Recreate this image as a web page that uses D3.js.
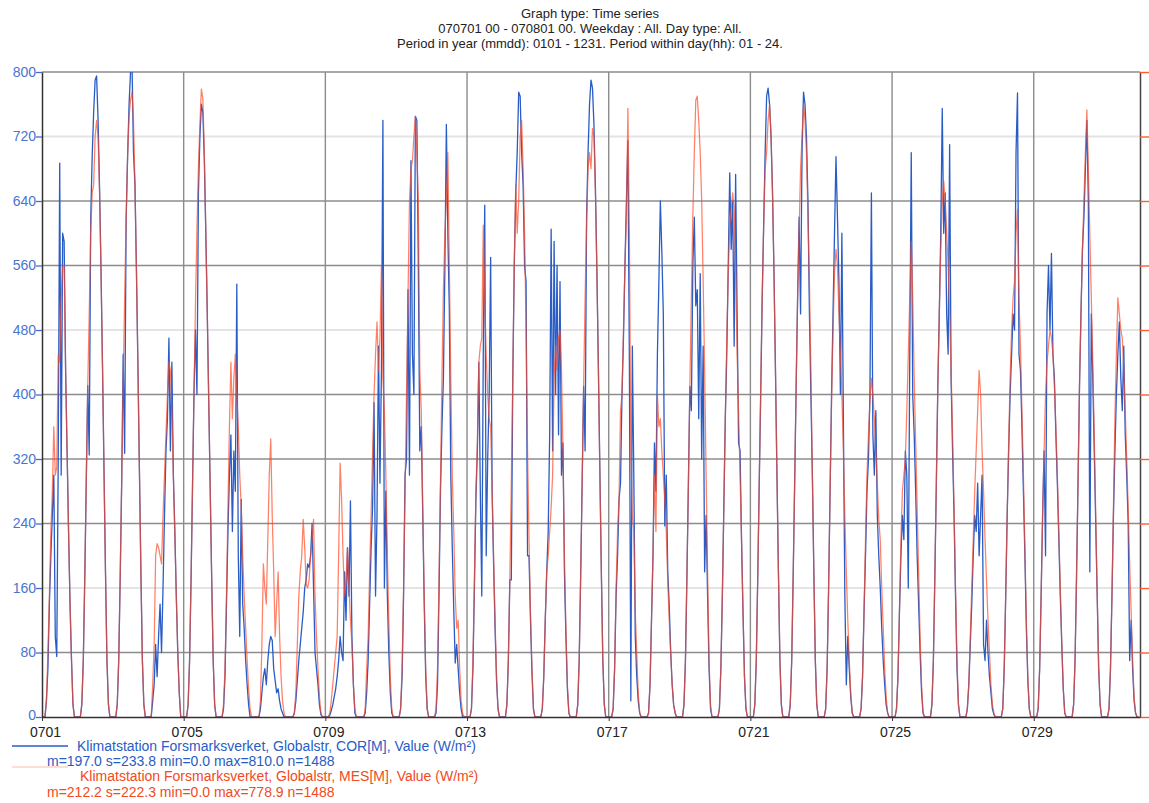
<!DOCTYPE html>
<html>
<head>
<meta charset="utf-8">
<script src="https://cdn.jsdelivr.net/npm/d3@7"></script>
<style>
  html, body { margin: 0; padding: 0; background: #fff; }
  svg { display: block; font-family: "Liberation Sans", Arial, sans-serif; }
</style>
</head>
<body>
<svg id="chart" width="1149" height="803"></svg>
<script>
// ---- chart data -------------------------------------------------------------
const titleLines = [
  "Graph type: Time series",
  "070701 00 - 070801 00. Weekday : All. Day type: All.",
  "Period in year (mmdd): 0101 - 1231. Period within day(hh): 01 - 24."
];
const xTickLabels = ["0701", "0705", "0709", "0713", "0717", "0721", "0725", "0729"];
const yTickValues = [0, 80, 160, 240, 320, 400, 480, 560, 640, 720, 800];
const seriesNames = [
  "Klimatstation Forsmarksverket, Globalstr, COR[M], Value (W/m\u00b2)",
  "Klimatstation Forsmarksverket, Globalstr, MES[M], Value (W/m\u00b2)"
];
const seriesStats = [
  "m=197.0 s=233.8 min=0.0 max=810.0 n=1488",
  "m=212.2 s=222.3 min=0.0 max=778.9 n=1488"
];

// Hourly global radiation (W/m²), one row per day of July 2007, hours 00..23
const corHourly = [
  [0,0,0,20,60,140,200,250,300,100,75,320,687,300,600,590,430,330,230,140,70,15,0,0],
  [0,0,0,16,71,174,292,411,325,616,695,750,790,795,740,656,553,435,308,182,71,16,0,0],
  [0,0,0,16,71,174,292,450,327,616,695,760,800,810,700,660,553,435,308,182,71,16,0,0],
  [0,0,0,20,40,90,50,100,140,80,160,250,330,370,470,330,440,300,230,150,80,30,0,0],
  [0,0,0,15,70,170,287,403,480,400,650,720,760,750,690,600,500,390,280,170,70,15,0,0],
  [0,0,0,10,50,140,230,300,350,230,330,280,537,200,100,270,140,110,70,40,15,0,0,0],
  [0,0,0,0,10,30,50,60,40,70,90,100,95,60,45,30,35,20,10,5,0,0,0,0],
  [0,0,0,5,20,45,70,90,110,130,160,170,190,185,200,240,160,80,60,40,15,3,0,0],
  [0,0,0,2,8,15,25,35,50,70,100,80,70,180,120,210,150,268,100,40,5,0,0,0],
  [0,0,0,5,30,70,140,210,260,390,150,250,460,290,430,740,160,280,150,80,30,5,0,0],
  [0,0,0,10,50,150,300,320,530,300,690,450,400,745,740,560,330,360,250,140,50,10,0,0],
  [0,0,0,5,40,150,280,360,420,560,735,600,505,300,210,134,67,90,60,30,10,0,0,0],
  [0,0,0,10,60,160,270,330,440,280,150,450,635,200,320,400,570,280,190,110,45,10,0,0],
  [0,0,0,15,70,170,170,420,560,650,700,775,770,700,660,560,540,200,200,120,55,10,0,0],
  [0,0,0,10,50,120,180,230,350,605,330,590,400,560,350,540,300,340,180,100,35,5,0,0],
  [0,0,0,15,70,175,290,410,330,620,700,760,790,780,735,656,553,435,308,182,71,16,0,0],
  [0,0,0,10,60,150,200,270,290,400,470,560,640,715,440,20,460,300,100,50,20,5,0,0],
  [0,0,0,5,40,120,200,340,280,450,540,640,577,500,237,300,180,139,80,40,15,5,0,0],
  [0,0,0,15,70,175,290,410,380,560,620,510,530,370,550,320,460,180,250,150,60,10,0,0],
  [0,0,0,10,60,150,260,370,450,560,675,580,640,460,673,500,340,330,220,130,50,10,0,0],
  [0,0,0,15,70,175,290,400,520,610,700,770,780,760,720,650,550,430,300,180,70,15,0,0],
  [0,0,0,15,70,175,290,410,520,620,500,700,775,760,720,640,500,400,300,180,70,15,0,0],
  [0,0,0,10,60,160,280,400,500,600,695,620,540,400,600,370,150,40,100,60,25,5,0,0],
  [0,0,0,10,50,130,200,280,320,400,650,350,300,380,250,200,160,110,70,40,15,5,0,0],
  [0,0,0,10,50,130,200,250,220,330,300,160,450,700,400,350,280,200,140,80,30,5,0,0],
  [0,0,0,15,70,175,290,410,500,600,755,600,650,500,450,710,420,330,250,150,60,15,0,0],
  [0,0,0,10,40,90,140,200,250,230,290,200,250,300,90,70,120,80,50,30,10,3,0,0],
  [0,0,0,10,60,150,250,330,400,450,500,480,700,774,450,430,360,280,200,110,45,10,0,0],
  [0,0,0,10,60,150,250,330,200,500,560,480,575,450,420,350,290,220,150,90,35,5,0,0],
  [0,0,0,15,70,175,290,410,500,580,620,680,740,640,180,500,420,330,240,150,60,15,0,0],
  [0,0,0,10,60,150,250,330,400,450,490,420,380,460,350,300,240,70,120,60,20,5,0,0]
];
const mesHourly = [
  [0,0,0,20,80,150,230,280,360,300,310,450,440,520,560,560,430,330,230,140,70,15,0,0],
  [0,0,0,16,71,174,292,411,500,600,650,660,720,740,720,650,553,435,308,182,71,16,0,0],
  [0,0,0,16,71,174,292,411,521,616,695,745,765,775,740,660,553,435,308,182,71,16,0,0],
  [0,0,0,40,90,200,215,210,200,190,250,300,350,400,440,430,380,300,230,150,80,30,0,0],
  [0,0,0,15,70,170,287,403,512,605,682,736,778.9,767,700,600,500,390,280,170,70,15,0,0],
  [0,0,0,15,60,150,260,360,440,370,420,450,400,360,300,260,200,150,110,70,35,10,0,0],
  [0,0,0,0,20,90,190,160,140,220,300,345,250,180,100,140,180,100,50,20,5,0,0,0],
  [0,0,0,5,30,90,150,180,200,245,210,165,160,170,200,220,245,150,100,60,25,5,0,0],
  [0,0,0,5,20,40,60,80,100,200,315,270,200,150,170,210,160,120,90,40,10,0,0,0],
  [0,0,0,10,60,100,180,250,330,400,450,490,430,470,560,420,380,300,200,120,50,10,0,0],
  [0,0,0,10,60,160,280,400,520,640,680,690,720,745,700,640,430,380,260,150,60,10,0,0],
  [0,0,0,10,60,170,290,420,530,600,640,700,560,420,300,230,150,110,120,60,20,5,0,0],
  [0,0,0,10,70,170,280,340,440,460,470,610,520,450,400,370,360,280,200,120,50,10,0,0],
  [0,0,0,15,70,170,290,420,560,660,600,640,720,740,680,600,480,330,220,130,60,10,0,0],
  [0,0,0,10,50,120,180,200,230,260,300,420,460,430,470,480,430,330,200,110,40,5,0,0],
  [0,0,0,15,70,175,290,410,520,610,680,700,680,730,720,650,550,430,300,180,70,15,0,0],
  [0,0,0,10,60,160,230,270,380,400,480,560,620,755,600,330,250,230,130,80,30,5,0,0],
  [0,0,0,5,40,120,200,300,230,400,360,370,330,300,270,230,170,120,80,40,15,5,0,0],
  [0,0,0,15,70,175,290,410,520,620,700,765,770,740,700,640,540,430,300,180,70,15,0,0],
  [0,0,0,10,60,150,260,370,470,550,610,630,650,630,560,450,380,300,220,130,50,10,0,0],
  [0,0,0,15,70,175,290,410,520,610,680,700,740,760,720,650,550,430,300,180,70,15,0,0],
  [0,0,0,15,70,175,290,410,520,600,680,720,760,740,700,620,540,430,300,180,70,15,0,0],
  [0,0,0,10,60,160,280,390,480,550,580,560,500,450,400,330,250,180,120,70,30,5,0,0],
  [0,0,0,10,50,130,220,300,350,390,420,400,370,330,290,245,220,160,110,60,25,5,0,0],
  [0,0,0,10,50,130,220,280,300,320,380,450,520,590,520,420,340,260,180,100,40,5,0,0],
  [0,0,0,15,70,175,290,410,500,580,640,665,640,600,560,500,430,350,260,160,70,15,0,0],
  [0,0,0,10,40,100,160,220,280,330,380,430,400,330,280,220,170,120,80,40,15,5,0,0],
  [0,0,0,10,60,150,250,340,420,480,520,540,600,630,520,460,380,300,210,120,50,10,0,0],
  [0,0,0,10,60,150,250,330,400,440,460,480,470,450,410,360,300,230,160,90,35,5,0,0],
  [0,0,0,15,70,175,290,410,500,580,640,700,753,680,600,520,440,350,250,150,60,15,0,0],
  [0,0,0,10,60,150,260,370,450,520,500,480,470,430,380,320,260,190,130,70,25,5,0,0]
];

// ---- layout -----------------------------------------------------------------
const plot = { left: 42, right: 1140, top: 72, bottom: 717 };
const blue = "#2a5cc6", red = "#ff4a26";

const svg = d3.select("#chart");

const x = d3.scaleUtc()
  .domain([new Date(Date.UTC(2007, 6, 1)), new Date(Date.UTC(2007, 7, 1))])
  .range([plot.left, plot.right]);
const y = d3.scaleLinear().domain([0, 800]).range([plot.bottom, plot.top]);

const toPoints = rows => rows.flatMap((day, d) =>
  day.map((v, h) => ({ t: new Date(Date.UTC(2007, 6, 1 + d, h)), v })));
const corPts = toPoints(corHourly);
const mesPts = toPoints(mesHourly);

// title
svg.append("g").selectAll("text").data(titleLines).join("text")
  .attr("x", 590).attr("y", (d, i) => 18 + i * 15)
  .attr("text-anchor", "middle")
  .attr("font-size", 13).attr("fill", "#222")
  .text(d => d);

// grid
const lightY = new Set([160, 480, 720]);
svg.append("g").selectAll("line").data(yTickValues.filter(v => v > 0)).join("line")
  .attr("x1", plot.left).attr("x2", plot.right)
  .attr("y1", d => y(d)).attr("y2", d => y(d))
  .attr("stroke", d => lightY.has(d) ? "#e4e4e4" : "#8c8c8c")
  .attr("stroke-width", d => lightY.has(d) ? 2 : 1.3);

const xTickDates = xTickLabels.map(s => new Date(Date.UTC(2007, +s.slice(0, 2) - 1, +s.slice(2))));
svg.append("g").selectAll("line").data(xTickDates.slice(1)).join("line")
  .attr("x1", d => x(d)).attr("x2", d => x(d))
  .attr("y1", plot.top).attr("y2", plot.bottom)
  .attr("stroke", "#8c8c8c").attr("stroke-width", 1.4);

// series
svg.append("clipPath").attr("id", "clip").append("rect")
  .attr("x", plot.left).attr("y", plot.top)
  .attr("width", plot.right - plot.left).attr("height", plot.bottom - plot.top);

const line = d3.line().x(d => x(d.t)).y(d => y(d.v));
const series = svg.append("g").attr("clip-path", "url(#clip)");
series.append("path").datum(corPts)
  .attr("d", line).attr("fill", "none")
  .attr("stroke", blue).attr("stroke-width", 1.3).attr("stroke-linejoin", "round");
series.append("path").datum(mesPts)
  .attr("d", line).attr("fill", "none")
  .attr("stroke", red).attr("stroke-opacity", 0.7)
  .attr("stroke-width", 1.25).attr("stroke-linejoin", "round");

// left axis
const yAxis = svg.append("g").attr("transform", `translate(${plot.left},0)`)
  .call(d3.axisLeft(y).tickValues(yTickValues).tickSize(6).tickSizeOuter(0).tickFormat(d3.format("d")));
yAxis.select(".domain").attr("stroke", "#333").attr("stroke-width", 1.5);
yAxis.selectAll(".tick line").attr("stroke", "#3f6cd0").attr("stroke-width", 1.3);
yAxis.selectAll(".tick text").attr("fill", "#4a74cf").attr("font-size", 14)
  .attr("font-family", "Liberation Sans, Arial, sans-serif").attr("x", -6)
  .attr("dy", d => d === 0 ? "0.2em" : "0.32em");

// right axis
const yAxisR = svg.append("g").attr("transform", `translate(${plot.right},0)`)
  .call(d3.axisRight(y).tickValues(yTickValues).tickSize(9).tickSizeOuter(0).tickFormat(""));
yAxisR.select(".domain").attr("stroke", "#444").attr("stroke-width", 1.5);
yAxisR.selectAll(".tick line").attr("stroke", "#ff5a30").attr("stroke-width", 1.4);

// bottom axis
const xAxis = svg.append("g").attr("transform", `translate(0,${plot.bottom})`)
  .call(d3.axisBottom(x).tickValues(xTickDates).tickSize(4).tickSizeOuter(0)
    .tickFormat((d, i) => xTickLabels[i]));
xAxis.select(".domain").attr("stroke", "#333").attr("stroke-width", 1.5);
xAxis.selectAll(".tick line").attr("stroke", "#333");
xAxis.selectAll(".tick text").attr("fill", "#222").attr("font-size", 14)
  .attr("font-family", "Liberation Sans, Arial, sans-serif").attr("y", 10).attr("dx", 3);

// legend
const legend = svg.append("g");
legend.append("line").attr("x1", 12).attr("x2", 68).attr("y1", 746).attr("y2", 746)
  .attr("stroke", blue).attr("stroke-width", 1.5);
legend.append("line").attr("x1", 12).attr("x2", 68).attr("y1", 767).attr("y2", 767)
  .attr("stroke", "#fcd2c6").attr("stroke-width", 1.5);
legend.append("text").attr("x", 77).attr("y", 751).attr("font-size", 14)
  .attr("fill", "#2a5cc4").text(seriesNames[0]);
legend.append("text").attr("x", 47).attr("y", 766).attr("font-size", 14)
  .attr("fill", "#2a5cc4").text(seriesStats[0]);
legend.append("text").attr("x", 80).attr("y", 781).attr("font-size", 14)
  .attr("fill", "#f24a22").text(seriesNames[1]);
legend.append("text").attr("x", 47).attr("y", 797).attr("font-size", 14)
  .attr("fill", "#f24a22").text(seriesStats[1]);
</script>
</body>
</html>
